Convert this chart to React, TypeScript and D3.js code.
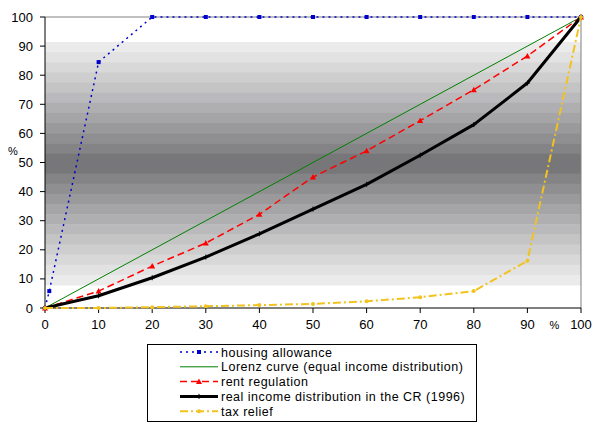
import React from "react";
import * as d3 from "d3";

const xTicks = [0, 10, 20, 30, 40, 50, 60, 70, 80, 90, 100];
const yTicks = [0, 10, 20, 30, 40, 50, 60, 70, 80, 90, 100];

const housingX = [0, 0.8, 10, 20, 30, 40, 50, 60, 70, 80, 90, 100];
const housingY = [0, 5.8, 84.5, 100, 100, 100, 100, 100, 100, 100, 100, 100];

const lorenzX = [0, 100];
const lorenzY = [0, 100];

const rentX = [0, 10, 20, 30, 40, 50, 60, 70, 80, 90, 100];
const rentY = [0, 5.8, 14.4, 22.3, 32.2, 45, 54, 64.4, 75, 86.6, 100];

const realX = [0, 10, 20, 30, 40, 50, 60, 70, 80, 90, 100];
const realY = [0, 4.2, 10.4, 17.5, 25.5, 34, 42.5, 52.5, 63, 77.3, 100];

const taxX = [0, 10, 20, 30, 40, 50, 60, 70, 80, 90, 100];
const taxY = [0, 0, 0.3, 0.6, 1.0, 1.4, 2.3, 3.7, 5.8, 16.2, 100];

const legendLabels = [
  "housing allowance",
  "Lorenz curve (equal income distribution)",
  "rent regulation",
  "real income distribution in the CR (1996)",
  "tax relief",
];

const FONT = "'Liberation Sans', Arial, sans-serif";

type Series = {
  xs: number[];
  ys: number[];
  color: string;
  width: number;
  dash?: string;
  marker: "square" | "none" | "triangle" | "plus" | "circle";
};

const series: Series[] = [
  { xs: housingX, ys: housingY, color: "#0000cc", width: 1.5, dash: "2,4", marker: "square" },
  { xs: lorenzX, ys: lorenzY, color: "#008000", width: 1, marker: "none" },
  { xs: rentX, ys: rentY, color: "#ff0000", width: 1.5, dash: "7,4", marker: "triangle" },
  { xs: realX, ys: realY, color: "#000000", width: 3, marker: "plus" },
  { xs: taxX, ys: taxY, color: "#f2c21e", width: 2, dash: "8,3,2,3", marker: "circle" },
];

function Marker({ kind, x, y, color }: { kind: string; x: number; y: number; color: string }) {
  if (kind === "square") return <rect x={x - 2} y={y - 2} width={4} height={4} fill={color} />;
  if (kind === "triangle")
    return <path d={`M${x},${y - 3}L${x + 3},${y + 2.5}L${x - 3},${y + 2.5}Z`} fill={color} />;
  if (kind === "circle") return <circle cx={x} cy={y} r={2} fill={color} />;
  if (kind === "plus")
    return (
      <path d={`M${x - 2.5},${y}H${x + 2.5}M${x},${y - 2.5}V${y + 2.5}`} stroke={color} strokeWidth={1} />
    );
  return null;
}

export default function App() {
  const left = 45, right = 581, top = 17, bottom = 308;
  const x = d3.scaleLinear().domain([0, 100]).range([left, right]);
  const y = d3.scaleLinear().domain([0, 100]).range([bottom, top]);

  // gradient bands
  const bandTop = y(91.4), bandBot = y(7.9);
  const nBands = 24;
  const bh = (bandBot - bandTop) / nBands;
  const bands = d3.range(nBands).map((i) => {
    const t = (i + 0.5) / nBands;
    const d = Math.abs(t - 0.5) * 2; // 0 center, 1 edge
    const v = Math.round(112 + (240 - 112) * Math.pow(d, 0.9));
    return { y0: bandTop + i * bh, c: `rgb(${v},${v},${v + (d < 0.6 ? 3 : 0)})` };
  });

  const line = d3
    .line<[number, number]>()
    .x((d) => x(d[0]))
    .y((d) => y(d[1]));

  const legX = 147, legY = 344, legW = 329, legH = 77;
  const rowH = 14.8;

  return (
    <svg
      width={600}
      height={427}
      style={{ position: "absolute", left: 0, top: 0, background: "#fff" }}
      fontFamily={FONT}
    >
      <rect width={600} height={427} fill="#fff" />
      {bands.map((b, i) => (
        <rect key={i} x={left} y={b.y0} width={right - left} height={bh + 0.5} fill={b.c} />
      ))}
      {/* plot border top/right */}
      <path d={`M${left},${top}H${right}V${bottom}`} fill="none" stroke="#808080" strokeWidth={1} />
      {/* axes */}
      <line x1={left} x2={left} y1={top} y2={bottom} stroke="#000" />
      <line x1={left} x2={right} y1={bottom} y2={bottom} stroke="#000" />
      {yTicks.map((t) => (
        <g key={"y" + t}>
          <line x1={left - 5} x2={left} y1={y(t)} y2={y(t)} stroke="#000" />
          <text x={33} y={y(t) + 4.5} fontSize={13} textAnchor="end">
            {t}
          </text>
        </g>
      ))}
      {xTicks.map((t) => (
        <g key={"x" + t}>
          <line x1={x(t)} x2={x(t)} y1={bottom} y2={bottom + 5} stroke="#000" />
          <text x={x(t)} y={328.5} fontSize={13} textAnchor="middle">
            {t}
          </text>
        </g>
      ))}
      <text x={13} y={155} fontSize={11} textAnchor="middle">%</text>
      <text x={554.5} y={328.5} fontSize={11} textAnchor="middle">%</text>

      {series.map((s, i) => {
        const pts = s.xs.map((v, j) => [v, s.ys[j]] as [number, number]);
        return (
          <g key={i}>
            <path
              d={line(pts) || ""}
              fill="none"
              stroke={s.color}
              strokeWidth={s.width}
              strokeDasharray={s.dash}
              strokeLinejoin="round"
            />
            {pts.map((p, j) => (
              <Marker key={j} kind={s.marker} x={x(p[0])} y={y(p[1])} color={s.color} />
            ))}
          </g>
        );
      })}

      {/* legend */}
      <rect x={legX + 0.5} y={legY + 0.5} width={legW} height={legH} fill="#fff" stroke="#000" />
      {series.map((s, i) => {
        const cy = legY + 8 + i * rowH;
        return (
          <g key={"l" + i}>
            <line
              x1={180}
              x2={218}
              y1={cy}
              y2={cy}
              stroke={s.color}
              strokeWidth={s.width}
              strokeDasharray={s.dash}
            />
            <Marker kind={s.marker} x={199} y={cy} color={s.color} />
            <text x={221} y={cy + 4.5} fontSize={12.5} letterSpacing={0.5}>
              {legendLabels[i]}
            </text>
          </g>
        );
      })}
    </svg>
  );
}
